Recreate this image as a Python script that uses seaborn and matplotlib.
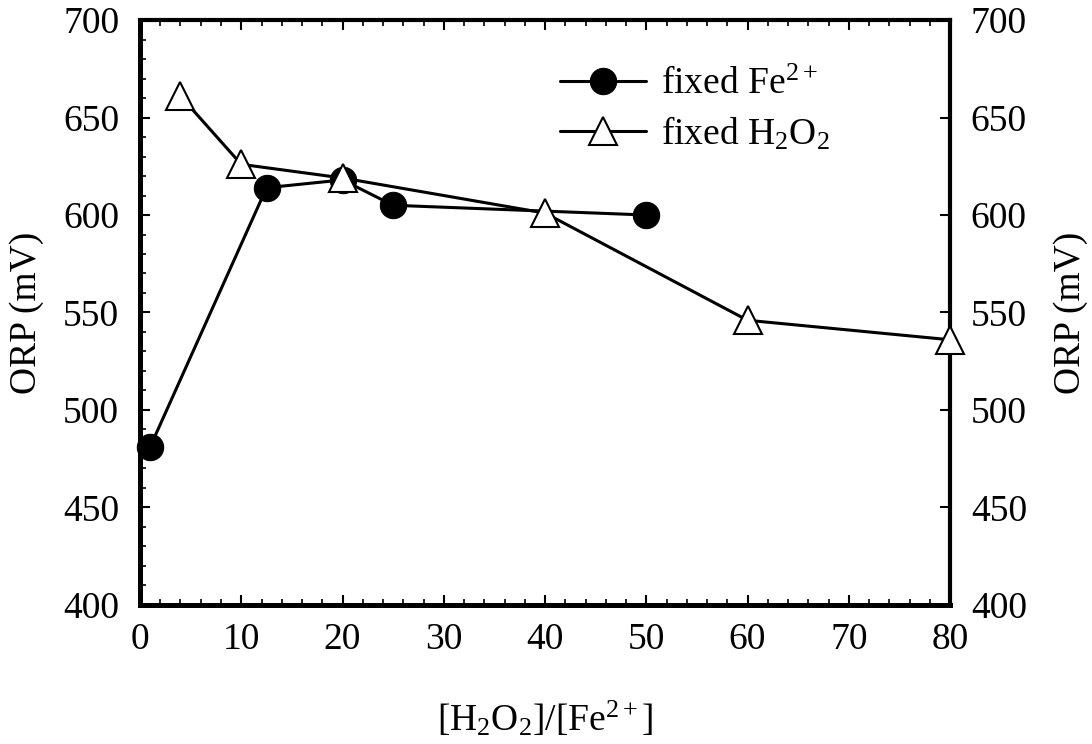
import matplotlib
matplotlib.use("Agg")
import matplotlib.pyplot as plt
from matplotlib.ticker import MultipleLocator, NullLocator
import seaborn as sns
import pandas as pd

# ORP versus [H2O2]/[Fe2+] ratio
fe_ratio = [1, 12.5, 20, 25, 50]
fe_orp = [481, 614, 618, 605, 600]
h2o2_ratio = [4, 10, 20, 40, 60, 80]
h2o2_orp = [661, 626, 619, 601, 546, 536]

label_fe = "fixed Fe$^{2+}$"
label_h2o2 = "fixed H$_2$O$_2$"
xlabel = "[H$_2$O$_2$]/[Fe$^{2+}$]"
ylabel = "ORP (mV)"
x_ticks = [0, 10, 20, 30, 40, 50, 60, 70, 80]
y_ticks = [400, 450, 500, 550, 600, 650, 700]

FS = 27

sns.set_style("ticks")
plt.rcParams["font.family"] = ["Liberation Serif", "DejaVu Serif"]
plt.rcParams["mathtext.fontset"] = "custom"
plt.rcParams["mathtext.rm"] = "Liberation Serif"
plt.rcParams["mathtext.it"] = "Liberation Serif:italic"
plt.rcParams["mathtext.default"] = "rm"
for key in ["text.color", "axes.labelcolor", "xtick.color", "ytick.color",
            "axes.edgecolor"]:
    plt.rcParams[key] = "black"

fig = plt.figure(figsize=(10.92, 7.44), dpi=100)
ax = fig.add_axes([0.1282, 0.187, 0.7418, 0.786])

df_fe = pd.DataFrame({"ratio": fe_ratio, "orp": fe_orp})
df_h = pd.DataFrame({"ratio": h2o2_ratio, "orp": h2o2_orp})

sns.lineplot(data=df_fe, x="ratio", y="orp", ax=ax, sort=False, color="black",
             linewidth=2.2, marker="o", markersize=19, markerfacecolor="black",
             markeredgecolor="black", label=label_fe, zorder=3, clip_on=False)
sns.lineplot(data=df_h, x="ratio", y="orp", ax=ax, sort=False, color="black",
             linewidth=2.2, marker="^", markersize=20, markerfacecolor="white",
             markeredgecolor="black", markeredgewidth=1.5, label=label_h2o2,
             zorder=4, clip_on=False)

ax.set_xlim(0, 80)
ax.set_ylim(400, 700)
ax.set_xticks(x_ticks)
ax.set_yticks(y_ticks)
ax.xaxis.set_minor_locator(MultipleLocator(2))
ax.yaxis.set_minor_locator(MultipleLocator(10))
ax.tick_params(axis="both", which="major", direction="in", labelsize=FS,
               length=7, width=1.5, color="black", labelcolor="black")
ax.tick_params(axis="both", which="minor", direction="in", length=4,
               width=1.2, color="black")
ax.tick_params(axis="x", which="both", top=True, pad=13)
ax.tick_params(axis="y", which="major", pad=15)

for side in ["left", "bottom"]:
    ax.spines[side].set_linewidth(3.6)
for side in ["top", "right"]:
    ax.spines[side].set_visible(True)
    ax.spines[side].set_linewidth(3.0)
for s in ax.spines.values():
    s.set_color("black")

ax.set_xlabel(xlabel, fontsize=FS, labelpad=30)
ax.set_ylabel(ylabel, fontsize=FS, labelpad=14)

# right-hand axis mirrors the ORP scale
ax2 = ax.twinx()
ax2.set_ylim(400, 700)
ax2.set_yticks(y_ticks)
ax2.yaxis.set_minor_locator(NullLocator())
ax2.tick_params(axis="y", direction="in", labelsize=FS, length=7, width=1.5,
                pad=15, color="black", labelcolor="black")
ax2.set_ylabel(ylabel, fontsize=FS, labelpad=19, rotation=90)
for s in ax2.spines.values():
    s.set_visible(False)

leg = ax.legend(loc="upper left", bbox_to_anchor=(0.5, 0.945), frameon=False,
                fontsize=FS, handlelength=2.3, handletextpad=0.4,
                labelspacing=0.35, borderaxespad=0)

fig.savefig("out.png", dpi=100)
